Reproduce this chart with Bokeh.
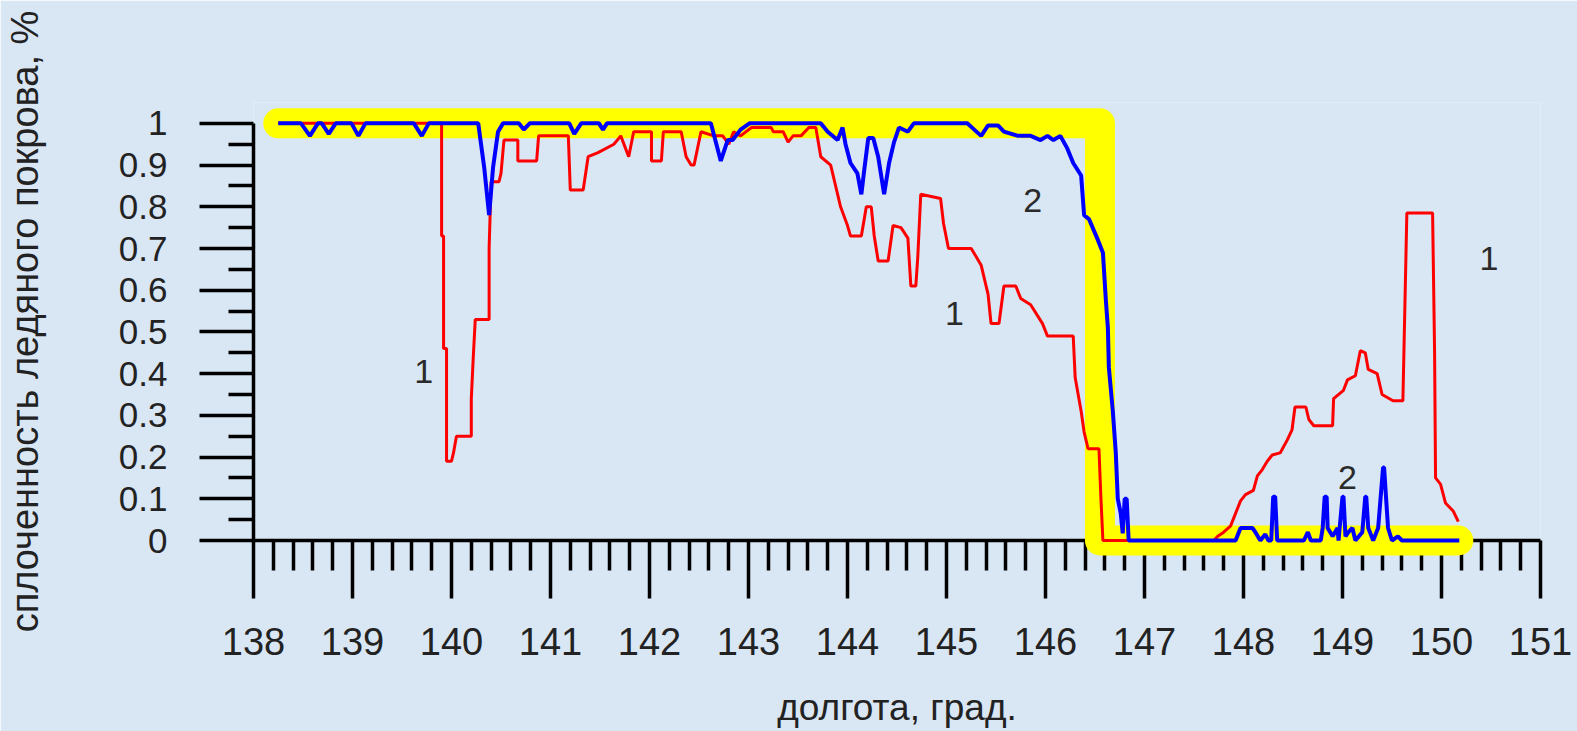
from bokeh.plotting import figure
from bokeh.models import FixedTicker, Range1d, ColumnDataSource
from bokeh.core.properties import value
from bokeh.embed import file_html
from bokeh.resources import INLINE

# ---- data -------------------------------------------------------------
# series 1 (red): ice concentration, fraction
red_lon = [138.25, 139.90, 139.90, 139.92, 139.92, 139.95, 139.95, 140.00, 140.02, 140.05,
           140.20, 140.20, 140.22, 140.24, 140.38, 140.38, 140.40, 140.48, 140.50, 140.53,
           140.67, 140.67, 140.86, 140.88, 141.18, 141.20, 141.33, 141.38, 141.48, 141.64,
           141.71, 141.79, 141.84, 142.02, 142.02, 142.12, 142.14, 142.32, 142.37, 142.42,
           142.45, 142.52, 142.65, 142.74, 142.80, 142.85, 142.92, 143.03, 143.23, 143.25,
           143.35, 143.40, 143.45, 143.53, 143.61, 143.68, 143.73, 143.83, 143.90, 143.93,
           144.00, 144.03, 144.14, 144.19, 144.24, 144.27, 144.31, 144.41, 144.46, 144.54,
           144.61, 144.64, 144.69, 144.71, 144.74, 144.94, 144.97, 145.02, 145.25, 145.30,
           145.35, 145.42, 145.45, 145.53, 145.58, 145.70, 145.75, 145.85, 145.97, 146.02,
           146.28, 146.30, 146.36, 146.39, 146.43, 146.54, 146.56, 146.58, 147.70, 147.74,
           147.80, 147.87, 147.92, 147.97, 148.02, 148.10, 148.14, 148.19, 148.24, 148.29,
           148.37, 148.44, 148.49, 148.52, 148.63, 148.66, 148.71, 148.90, 148.91, 149.01,
           149.05, 149.13, 149.18, 149.23, 149.26, 149.35, 149.40, 149.51, 149.61, 149.63,
           149.65, 149.91, 149.93, 149.94, 149.99, 150.04, 150.12, 150.17]
red_val = [1.00, 1.00, 0.73, 0.73, 0.46, 0.46, 0.19, 0.19, 0.21, 0.25,
           0.25, 0.34, 0.44, 0.53, 0.53, 0.70, 0.86, 0.86, 0.88, 0.96,
           0.96, 0.91, 0.91, 0.97, 0.97, 0.84, 0.84, 0.92, 0.93, 0.95,
           0.97, 0.92, 0.98, 0.98, 0.91, 0.91, 0.98, 0.98, 0.92, 0.90,
           0.90, 0.98, 0.97, 0.97, 0.95, 0.98, 0.97, 0.99, 0.99, 0.98,
           0.98, 0.955, 0.97, 0.97, 0.99, 0.99, 0.92, 0.90, 0.83, 0.80,
           0.755, 0.73, 0.73, 0.80, 0.80, 0.73, 0.67, 0.67, 0.755, 0.75,
           0.725, 0.61, 0.61, 0.68, 0.83, 0.82, 0.76, 0.70, 0.70, 0.68,
           0.66, 0.59, 0.52, 0.52, 0.61, 0.61, 0.58, 0.565, 0.52, 0.49,
           0.49, 0.39, 0.31, 0.26, 0.22, 0.22, 0.10, 0.00, 0.00, 0.01,
           0.02, 0.035, 0.065, 0.095, 0.11, 0.12, 0.155, 0.17, 0.19, 0.205,
           0.21, 0.24, 0.265, 0.32, 0.32, 0.29, 0.275, 0.275, 0.34, 0.36,
           0.385, 0.395, 0.455, 0.45, 0.41, 0.40, 0.35, 0.335, 0.335, 0.56,
           0.785, 0.785, 0.455, 0.15, 0.135, 0.09, 0.07, 0.045]

# series 2 (blue)
blue_lon = [138.25, 138.48, 138.57, 138.65, 138.69, 138.76, 138.83, 138.99, 139.06, 139.13,
            139.62, 139.70, 139.77, 140.27, 140.33, 140.38, 140.42, 140.47, 140.52, 140.68,
            140.73, 140.79, 141.19, 141.24, 141.31, 141.49, 141.53, 141.57, 142.62, 142.72,
            142.79, 142.84, 142.92, 143.01, 143.73, 143.80, 143.90, 143.95, 143.98, 144.03,
            144.10, 144.14, 144.17, 144.21, 144.26, 144.31, 144.37, 144.42, 144.47, 144.52,
            144.61, 144.67, 145.21, 145.28, 145.35, 145.42, 145.52, 145.58, 145.72, 145.85,
            145.95, 146.02, 146.08, 146.15, 146.22, 146.28, 146.36, 146.39, 146.44, 146.53,
            146.58, 146.61, 146.63, 146.64, 146.68, 146.71, 146.73, 146.76, 146.78, 146.80,
            146.82, 146.84, 147.92, 147.97, 148.09, 148.12, 148.17, 148.22, 148.25, 148.28,
            148.30, 148.32, 148.34, 148.61, 148.65, 148.68, 148.78, 148.80, 148.82, 148.84,
            148.85, 148.90, 148.95, 148.96, 149.00, 149.01, 149.03, 149.06, 149.10, 149.13,
            149.20, 149.23, 149.24, 149.26, 149.31, 149.36, 149.41, 149.42, 149.46, 149.50,
            149.56, 149.60, 150.18]
blue_val = [1.00, 1.00, 0.97, 1.00, 1.00, 0.975, 1.00, 1.00, 0.97, 1.00,
            1.00, 0.97, 1.00, 1.00, 0.895, 0.78, 0.895, 0.98, 1.00, 1.00,
            0.985, 1.00, 1.00, 0.975, 1.00, 1.00, 0.985, 1.00, 1.00, 0.91,
            0.96, 0.96, 0.985, 1.00, 1.00, 0.98, 0.96, 0.99, 0.95, 0.905,
            0.88, 0.83, 0.89, 0.965, 0.965, 0.92, 0.83, 0.905, 0.955, 0.99,
            0.98, 1.00, 1.00, 0.985, 0.97, 0.995, 0.995, 0.98, 0.97, 0.97,
            0.96, 0.97, 0.96, 0.97, 0.94, 0.905, 0.875, 0.78, 0.77, 0.72,
            0.69, 0.575, 0.51, 0.415, 0.31, 0.21, 0.10, 0.065, 0.017, 0.10,
            0.10, 0.00, 0.00, 0.03, 0.03, 0.02, 0.00, 0.015, 0.00, 0.00,
            0.105, 0.105, 0.00, 0.00, 0.02, 0.00, 0.00, 0.03, 0.105, 0.105,
            0.03, 0.01, 0.03, 0.00, 0.105, 0.105, 0.01, 0.02, 0.03, 0.00,
            0.02, 0.105, 0.105, 0.03, 0.00, 0.03, 0.175, 0.175, 0.03, 0.00,
            0.01, 0.00, 0.00]

# yellow highlighted envelope
band_lon = [138.25, 146.55, 146.55, 150.17]
band_val = [1.0, 1.0, 0.0, 0.0]

# curve labels
label_text = ["1", "1", "1", "2", "2"]
label_lon = [139.72, 145.08, 150.48, 145.87, 149.05]
label_val = [0.405, 0.545, 0.676, 0.815, 0.151]

y_ticks = [0.0, 0.1, 0.2, 0.3, 0.4, 0.5, 0.6, 0.7, 0.8, 0.9, 1.0]
y_tick_labels = ["0", "0.1", "0.2", "0.3", "0.4", "0.5", "0.6", "0.7", "0.8", "0.9", "1"]
x_ticks = [138, 139, 140, 141, 142, 143, 144, 145, 146, 147, 148, 149, 150, 151]

x_title = "долгота, град."
y_title = "сплоченность ледяного покрова, %"

# ---- figure -----------------------------------------------------------
BG = "#d9e6f3"
FONT = "Liberation Sans"

p = figure(width=1577, height=731, output_backend="svg", toolbar_location=None,
           x_range=Range1d(138, 151), y_range=Range1d(0, 1.05),
           min_border_left=252, min_border_right=37, min_border_top=102, min_border_bottom=191)
p.background_fill_color = BG
p.border_fill_color = BG
p.outline_line_color = None
p.xgrid.visible = False
p.ygrid.visible = False

band = p.line(band_lon, band_val, line_color="#ffff00", line_width=30,
              line_join="round", line_cap="round")
red = p.line(red_lon, red_val, line_color="#ff0000", line_width=3)
blue = p.line(blue_lon, blue_val, line_color="#0000ff", line_width=4)
for r in (band, red, blue):
    r.level = "overlay"

src = ColumnDataSource(dict(x=label_lon, y=label_val, t=label_text))
p.text(x="x", y="y", text="t", source=src, text_font=value(FONT), text_font_size="34px",
       text_color="#2a2a2a", text_align="center", text_baseline="middle")

minor_x = [138 + i * 0.2 for i in range(66) if i % 5 != 0]
minor_y = [0.05 + i * 0.1 for i in range(10)]

xa = p.xaxis[0]
xa.ticker = FixedTicker(ticks=x_ticks, minor_ticks=minor_x)
xa.bounds = (138, 151)
xa.axis_line_color = "black"
xa.axis_line_width = 3.5
xa.major_tick_line_width = 3.5
xa.minor_tick_line_width = 3.5
xa.major_tick_line_color = "black"
xa.minor_tick_line_color = "black"
xa.major_tick_out = 58
xa.major_tick_in = 0
xa.minor_tick_out = 30
xa.minor_tick_in = 0
xa.major_label_standoff = 29
xa.major_label_text_font = FONT
xa.major_label_text_font_size = "38px"
xa.major_label_text_color = "#222222"
xa.axis_label = x_title
xa.axis_label_text_font = FONT
xa.axis_label_text_font_size = "37px"
xa.axis_label_text_font_style = "normal"
xa.axis_label_text_color = "#222222"
xa.axis_label_standoff = 29

ya = p.yaxis[0]
ya.ticker = FixedTicker(ticks=y_ticks, minor_ticks=minor_y)
ya.bounds = (0, 1)
ya.major_label_overrides = {t: s for t, s in zip(y_ticks, y_tick_labels)}
ya.axis_line_color = "black"
ya.axis_line_width = 3.5
ya.major_tick_line_width = 3.5
ya.minor_tick_line_width = 3.5
ya.major_tick_line_color = "black"
ya.minor_tick_line_color = "black"
ya.major_tick_out = 54
ya.major_tick_in = 0
ya.minor_tick_out = 25
ya.minor_tick_in = 0
ya.major_label_standoff = 32
ya.major_label_text_font = FONT
ya.major_label_text_font_size = "35px"
ya.major_label_text_color = "#222222"
ya.axis_label = y_title
ya.axis_label_text_font = FONT
ya.axis_label_text_font_size = "38px"
ya.axis_label_text_font_style = "normal"
ya.axis_label_text_color = "#222222"
ya.axis_label_standoff = 70

open("out.html", "w").write(file_html(p, INLINE))
